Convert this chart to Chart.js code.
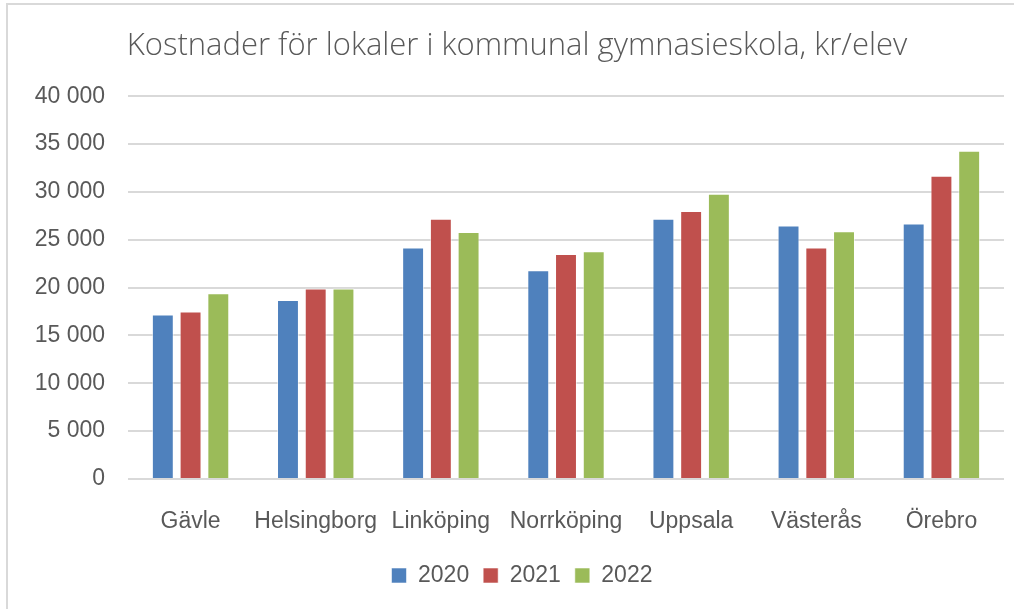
<!DOCTYPE html>
<html>
<head>
<meta charset="utf-8">
<script src="https://cdn.jsdelivr.net/npm/chart.js@4/dist/chart.umd.min.js"></script>
<style>
  html, body { margin: 0; padding: 0; background: #fff; }
  #wrap { position: relative; width: 1014px; height: 609px; overflow: hidden; }
  #frame { position: absolute; left: 6px; top: 3px; width: 1100px; height: 700px;
           border-top: 2px solid #d9d9d9; border-left: 2px solid #d9d9d9; pointer-events: none; }
  canvas { position: absolute; left: 0; top: 0; }
</style>
</head>
<body>
<div id="wrap">
  <canvas id="chart" width="1014" height="609"></canvas>
  <div id="frame"></div>
</div>
<script>
  const categories = ['Gävle', 'Helsingborg', 'Linköping', 'Norrköping', 'Uppsala', 'Västerås', 'Örebro'];
  const years = ['2020', '2021', '2022'];
  const values2020 = [17200, 18700, 24200, 21800, 27200, 26500, 26700];
  const values2021 = [17500, 19900, 27200, 23500, 28000, 24200, 31700];
  const values2022 = [19400, 19900, 25800, 23800, 29800, 25900, 34300];
  const yMin = 0;
  const yMax = 40000;
  const yStep = 5000;

  const colors = ['#4f81bd', '#c0504d', '#9bbb59'];
  const textColor = '#595959';
  const font = 'Liberation Sans, Arial, sans-serif';

  const fmt = (v) => String(v).replace(/\B(?=(\d{3})+(?!\d))/g, ' ');

  const series = [values2020, values2021, values2022];

  // y labels are clipped to the axis box, so keep the axis wide and
  // nudge title/legend centres afterwards instead
  const shiftBlocks = {
    id: 'shiftBlocks',
    afterLayout(chart) {
      if (chart.legend) chart.legend.left = 40;
      if (chart.titleBlock) chart.titleBlock.left = 30;
    },
  };

  new Chart(document.getElementById('chart'), {
    type: 'bar',
    data: {
      labels: categories,
      datasets: series.map((vals, i) => ({
        label: years[i],
        data: vals,
        backgroundColor: colors[i],
        borderColor: 'rgba(255,255,255,0.55)',
        borderWidth: 1,
        categoryPercentage: 0.665,
        barPercentage: 0.79,
      })),
    },
    options: {
      responsive: false,
      animation: false,
      layout: { padding: { left: 0, right: 10, top: 0, bottom: 12 } },
      plugins: {
        title: {
          display: true,
          text: 'Kostnader för lokaler i kommunal gymnasieskola, kr/elev',
          color: textColor,
          font: { family: 'Open Sans, Liberation Sans, sans-serif', size: 31, weight: 300 },
          padding: { top: 28, bottom: 31 },
        },
        legend: {
          position: 'bottom',
          labels: {
            color: textColor,
            font: { family: font, size: 23 },
            boxWidth: 15,
            boxHeight: 15,
            padding: 14,
          },
        },
        tooltip: { enabled: false },
      },
      scales: {
        x: {
          grid: { display: false },
          border: { display: false },
          ticks: {
            color: textColor,
            font: { family: font, size: 23 },
            padding: 21,
            maxRotation: 0,
            minRotation: 0,
            autoSkip: false,
          },
          afterFit: (scale) => { scale.height = 71; },
        },
        y: {
          min: yMin,
          max: yMax,
          grid: { color: '#d9d9d9', lineWidth: 2, drawTicks: false },
          border: { display: false },
          ticks: {
            stepSize: yStep,
            color: textColor,
            font: { family: font, size: 23 },
            padding: 23,
            callback: (v) => fmt(v),
          },
          afterFit: (scale) => { scale.width = 128; },
        },
      },
    },
    plugins: [shiftBlocks],
  });
</script>
</body>
</html>
